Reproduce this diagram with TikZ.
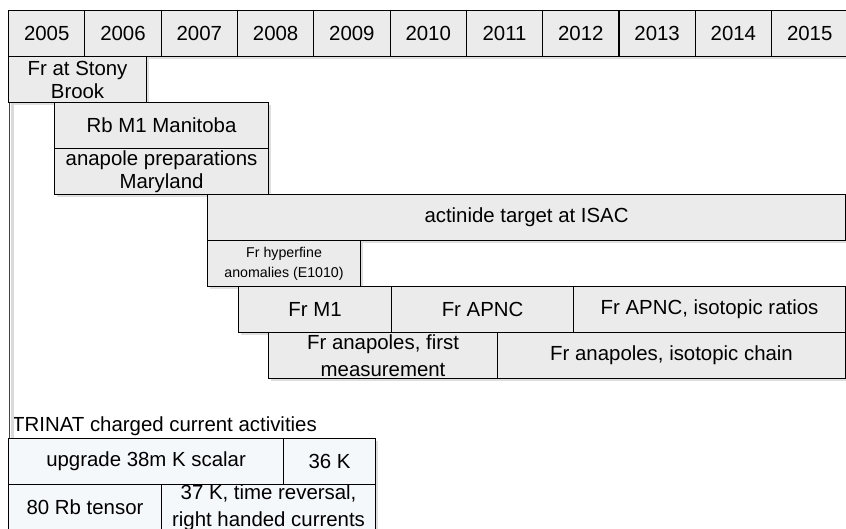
\documentclass[tikz,border=0pt]{standalone}
\usepackage{fontspec}
\setmainfont{Liberation Sans}
\usetikzlibrary{positioning,shadows}
\definecolor{BarGray}{HTML}{EBEBEB}
\definecolor{BarPale}{HTML}{F4F8FA}
\definecolor{FrameDark}{HTML}{444444}
\definecolor{FrameLight}{HTML}{DADADA}

\tikzset{
  bar/.style={rectangle, draw=black, fill=#1, line width=1.1pt, inner sep=0pt,
              anchor=north west, align=center, text=black, minimum height=46pt,
              font=\fontsize{20.4}{23}\selectfont,
              drop shadow={shadow xshift=2.5pt, shadow yshift=-2.5pt, opacity=0.25}},
  bar/.default=BarGray,
  smallbar/.style={bar, font=\fontsize{14.2}{20}\selectfont},
  loosebar/.style={bar=#1, font=\fontsize{20.4}{26.5}\selectfont},
  loosebar/.default=BarGray,
  wide/.style={minimum width=#1},
  grouplbl/.style={anchor=base west, inner sep=0pt, font=\fontsize{20.4}{23}\selectfont},
}

\begin{document}
\begin{tikzpicture}[x=1pt, y=-1pt]
  \useasboundingbox (0,0) rectangle (846,529);

  % Year header
  \foreach \yr [count=\i from 0] in {2005,...,2015}
    \node[bar, wide=76.3pt] (y\yr) at ({8+76.3*\i},10) {\yr};

  % Left frame of the francium activities
  \node[bar, wide=138pt] (stony) at (8,56) {Fr at Stony\\Brook};

  % Early work
  \node[bar, wide=214pt] (rbmone) at (54,102) {Rb M1 Manitoba};
  \node[bar, wide=214pt] (anaprep) at (54,148) {anapole preparations\\Maryland};

  % ISAC
  \node[bar, wide=638pt] (actinide) at (207,194) {actinide target at ISAC};
  \node[smallbar, wide=153pt] (hyperfine) at (207,240) {Fr hyperfine\\anomalies (E1010)};

  % Francium programme
  \node[bar, wide=153pt] (frmone) at (238,286) {Fr M1};
  \node[bar, wide=182pt] (frapnc) at (391,286) {Fr APNC};
  \node[bar, wide=272pt] (frratio) at (573,286) {Fr APNC, isotopic ratios};
  \node[loosebar, wide=229pt] (frfirst) at (268,332) {Fr anapoles, first\\measurement};
  \node[bar, wide=348pt] (frchain) at (497,332) {Fr anapoles, isotopic chain};

  % TRINAT
  \node[grouplbl] (trinat) at (12,431) {TRINAT charged current activities};
  \node[bar=BarPale, wide=275pt] (upgrade) at (8,438) {upgrade 38m K scalar};
  \node[bar=BarPale, wide=92pt] (kthirtysix) at (283,438) {36 K};
  \node[bar=BarPale, wide=153pt] (rbtensor) at (8,484) {80 Rb tensor};
  \node[loosebar=BarPale, wide=214pt] (kthirtyseven) at (161,484) {37 K, time reversal,\\right handed currents};

  % frame line down the left side
  \draw[FrameLight, line width=3pt] ([xshift=4.5pt]stony.south west) -- ([xshift=4.5pt]upgrade.north west);
  \draw[FrameDark, line width=0.9pt] ([xshift=1pt]stony.south west) -- ([xshift=1pt]upgrade.north west);
\end{tikzpicture}
\end{document}
